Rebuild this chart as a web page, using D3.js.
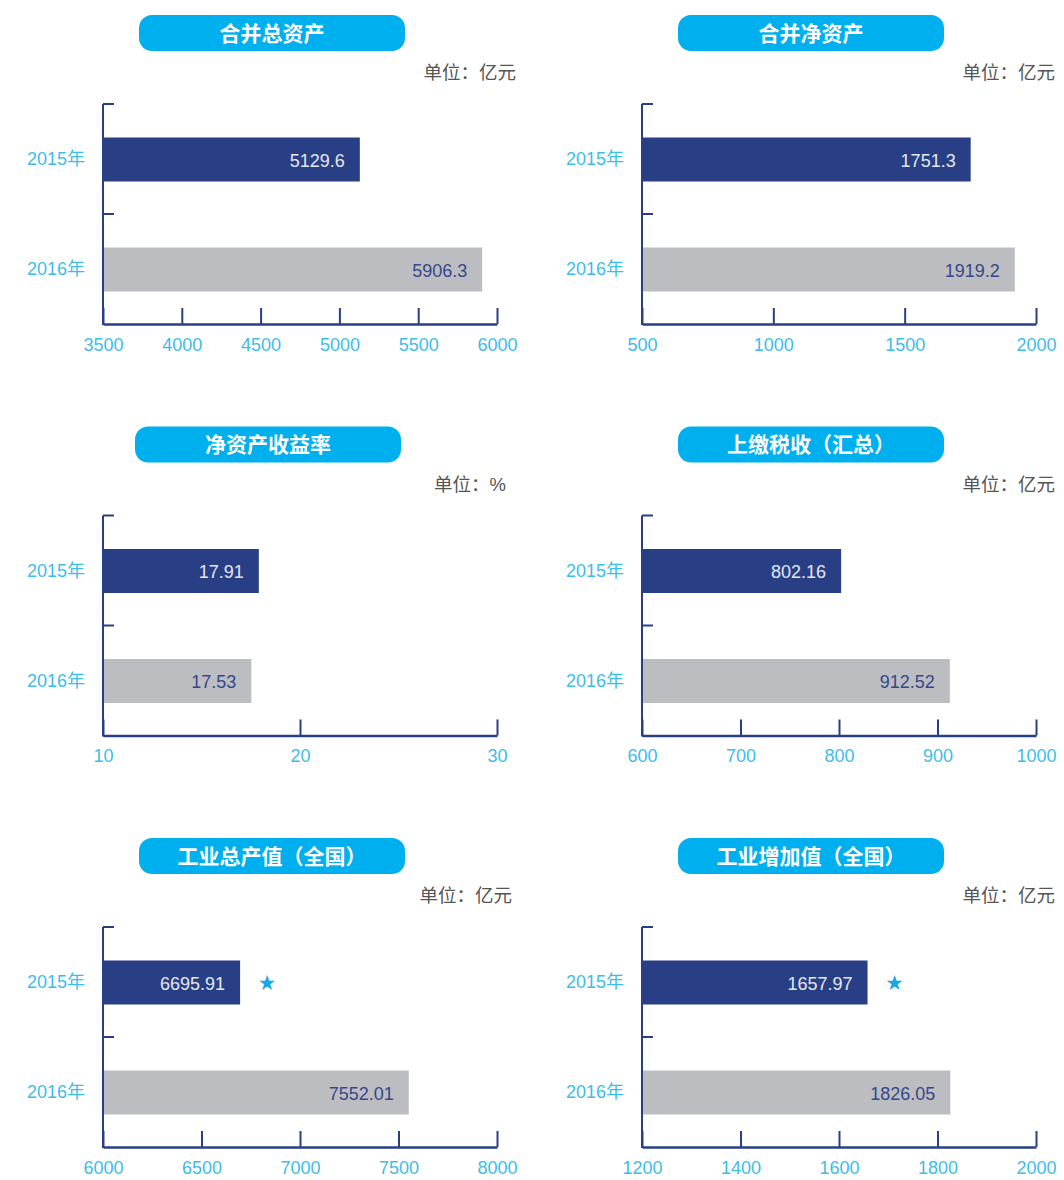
<!DOCTYPE html>
<html>
<head>
<meta charset="utf-8">
<script src="https://cdn.jsdelivr.net/npm/d3@7"></script>
<style>
  body { margin: 0; background: #fff; }
  text { font-family: "Liberation Sans", "Noto Sans CJK SC", sans-serif; }
</style>
</head>
<body>
<div id="vis"></div>
<script>
// chart data
var titles = ["合并总资产", "合并净资产", "净资产收益率", "上缴税收（汇总）", "工业总产值（全国）", "工业增加值（全国）"];
var units = ["单位：亿元", "单位：亿元", "单位：%", "单位：亿元", "单位：亿元", "单位：亿元"];
var years = ["2015年", "2016年"];
var values2015 = [5129.6, 1751.3, 17.91, 802.16, 6695.91, 1657.97];
var values2016 = [5906.3, 1919.2, 17.53, 912.52, 7552.01, 1826.05];
var domains = [[3500, 6000], [500, 2000], [10, 30], [600, 1000], [6000, 8000], [1200, 2000]];
var tickSteps = [500, 500, 10, 100, 500, 200];
var starred = [false, false, false, false, true, true];

var W = 1064, H = 1180;
var navy = "#283f85", grey = "#bcbdc1", sky = "#3dbde9", pill = "#00b0ee";

var svg = d3.select("#vis").append("svg")
  .attr("width", W)
  .attr("height", H);

titles.forEach(function(title, i) {
  var col = i % 2, row = Math.floor(i / 2);
  var ox = col * 539;            // panel x offset
  var oy = row * 411.5;          // panel y offset
  var g = svg.append("g").attr("transform", "translate(" + ox + "," + oy + ")");

  var left = 103, right = 497, top = 104, bottom = 324;
  var pillX = (i == 2) ? 135 : 139;

  // title pill
  g.append("rect")
    .attr("x", pillX).attr("y", 15)
    .attr("width", 266).attr("height", 36)
    .attr("rx", 13)
    .attr("fill", pill);
  g.append("text")
    .attr("x", pillX + 133).attr("y", 40.5)
    .attr("text-anchor", "middle")
    .attr("fill", "#fff")
    .style("font-size", "21px")
    .style("font-weight", "bold")
    .text(title);

  // unit
  g.append("text")
    .attr("x", i == 2 ? 506 : (i == 4 ? 512 : 516)).attr("y", 79)
    .attr("text-anchor", "end")
    .attr("fill", "#555")
    .style("font-size", "18.5px")
    .text(units[i]);

  var x = d3.scaleLinear().domain(domains[i]).range([left, right]);
  var y = d3.scaleBand().domain(years).range([top, bottom]).paddingInner(0).paddingOuter(0);

  var ticks = d3.range(domains[i][0], domains[i][1] + tickSteps[i] / 2, tickSteps[i]);

  var data = [
    { year: years[0], value: values2015[i], fill: navy, label: "#e4e8f2" },
    { year: years[1], value: values2016[i], fill: grey, label: "#36478a" }
  ];

  // bars
  g.selectAll(".bar").data(data).enter().append("rect")
    .attr("class", "bar")
    .attr("x", left)
    .attr("y", function(d) { return y(d.year) + 33.5; })
    .attr("width", function(d) { return x(d.value) - left; })
    .attr("height", 44)
    .attr("fill", function(d) { return d.fill; });

  g.selectAll(".val").data(data).enter().append("text")
    .attr("class", "val")
    .attr("x", function(d) { return x(d.value) - 15; })
    .attr("y", function(d) { return y(d.year) + 62.5; })
    .attr("text-anchor", "end")
    .attr("fill", function(d) { return d.label; })
    .style("font-size", "18px")
    .text(function(d) { return d.value; });

  if (starred[i]) {
    g.append("text")
      .attr("x", x(values2015[i]) + 27)
      .attr("y", y(years[0]) + 62)
      .attr("text-anchor", "middle")
      .attr("fill", "#1aa7e6")
      .style("font-size", "17px")
      .text("★");
  }

  // category labels
  g.selectAll(".cat").data(years).enter().append("text")
    .attr("class", "cat")
    .attr("x", 85)
    .attr("y", function(d) { return y(d) + 61; })
    .attr("text-anchor", "end")
    .attr("fill", sky)
    .style("font-size", "18px")
    .text(function(d) { return d; });

  // y axis line with ticks at band starts
  g.append("line")
    .attr("x1", left).attr("x2", left)
    .attr("y1", top).attr("y2", bottom + 1)
    .attr("stroke", navy).attr("stroke-width", 2);
  g.selectAll(".ytick").data(years).enter().append("line")
    .attr("class", "ytick")
    .attr("x1", left).attr("x2", left + 11)
    .attr("y1", function(d) { return y(d); })
    .attr("y2", function(d) { return y(d); })
    .attr("stroke", navy).attr("stroke-width", 2);

  // x axis
  var xAxis = d3.axisBottom(x)
    .tickValues(ticks)
    .tickSize(-16)
    .tickSizeOuter(0)
    .tickPadding(14)
    .tickFormat(d3.format("d"));
  var ax = g.append("g")
    .attr("transform", "translate(0," + bottom + ")")
    .call(xAxis);
  ax.select(".domain").attr("stroke", navy).attr("stroke-width", 2.5);
  ax.selectAll(".tick line").attr("stroke", navy).attr("stroke-width", 2);
  ax.selectAll(".tick text")
    .attr("fill", sky)
    .style("font-size", "18px")
    .style("font-family", "Liberation Sans, sans-serif")
    .attr("dy", "0.71em");
});
</script>
</body>
</html>
